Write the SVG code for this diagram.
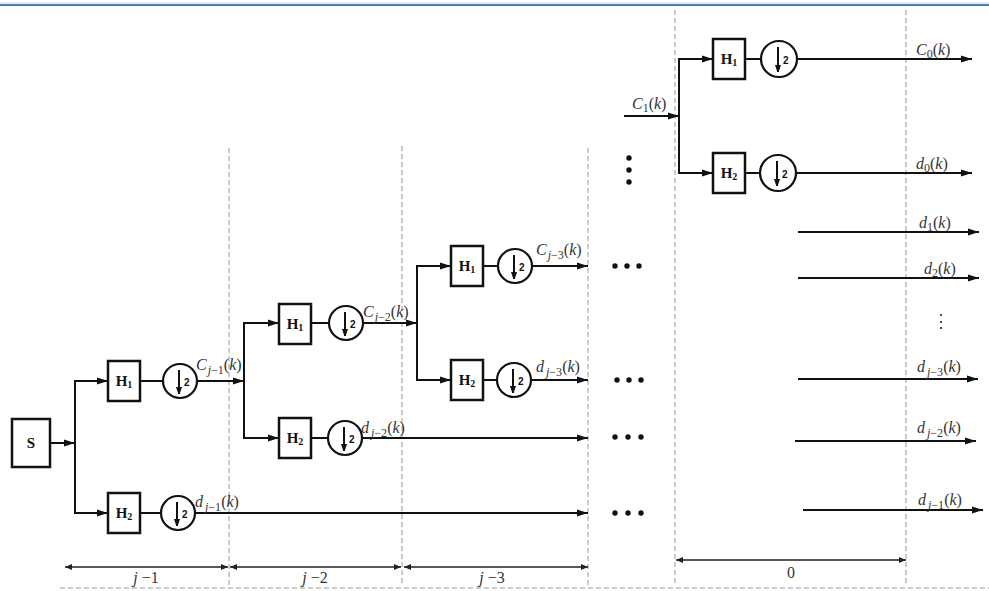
<svg xmlns="http://www.w3.org/2000/svg" width="989" height="591" viewBox="0 0 989 591">
<defs>
<style>
.ln{stroke:#111;stroke-width:2;fill:none}
.bx{stroke:#111;stroke-width:2.5;fill:#fff}
.cr{stroke:#111;stroke-width:2.2;fill:#fff}
.dash{stroke:#999;stroke-width:1;stroke-dasharray:5,3;fill:none}
.dim{stroke:#222;stroke-width:1.3;fill:none}
.lbl{font-family:"Liberation Serif",serif;font-size:16px;fill:#333}
.it{font-style:italic}
.sub{font-size:12px}
.hb{font-family:"Liberation Serif",serif;font-size:15px;font-weight:bold;fill:#111}
.two{font-family:"Liberation Sans",sans-serif;font-size:10px;font-weight:bold;fill:#111}
.dot{fill:#111}
</style>
<marker id="ah" markerUnits="userSpaceOnUse" markerWidth="11" markerHeight="8" refX="11" refY="4" orient="auto"><path d="M0,0.5 L11,4 L0,7.5 z" fill="#111"/></marker>
<marker id="ahs" markerUnits="userSpaceOnUse" markerWidth="7" markerHeight="10" refX="7" refY="3" orient="auto"><path d="M0,0 L9,3 L0,6 z" fill="#111"/></marker>
<marker id="dm" markerUnits="userSpaceOnUse" markerWidth="7" markerHeight="6" refX="7" refY="3" orient="auto-start-reverse"><path d="M0,0 L7,3 L0,6 z" fill="#222"/></marker>
</defs>
<rect width="989" height="591" fill="#fff"/>
<line x1="0" y1="3" x2="989" y2="3" stroke="#c9d8ec" stroke-width="1"/>
<line x1="0" y1="5" x2="989" y2="5" stroke="#4a7ebb" stroke-width="2.2"/>

<g id="grid">
<line class="dash" x1="229" y1="148" x2="229" y2="586"/>
<line class="dash" x1="402" y1="146" x2="402" y2="586"/>
<line class="dash" x1="588" y1="148" x2="588" y2="586"/>
<line class="dash" x1="675" y1="10" x2="675" y2="586"/>
<line class="dash" x1="906" y1="10" x2="906" y2="586"/>
<line class="dash" x1="60" y1="588" x2="989" y2="588"/>
</g>

<g id="connectors">
<line class="ln" x1="50" y1="443" x2="75" y2="443" marker-end="url(#ah)"/>
<line class="ln" x1="75" y1="381" x2="75" y2="513"/>
<line class="ln" x1="74" y1="381" x2="108" y2="381" marker-end="url(#ah)"/>
<line class="ln" x1="74" y1="513" x2="108" y2="513" marker-end="url(#ah)"/>
<line class="ln" x1="140" y1="381" x2="163" y2="381"/>
<line class="ln" x1="140" y1="513" x2="161" y2="513"/>
<line class="ln" x1="197" y1="381" x2="244" y2="381" marker-end="url(#ah)"/>
<line class="ln" x1="195" y1="513" x2="588" y2="513" marker-end="url(#ah)"/>

<line class="ln" x1="244" y1="323" x2="244" y2="438"/>
<line class="ln" x1="243" y1="323" x2="279" y2="323" marker-end="url(#ah)"/>
<line class="ln" x1="243" y1="438" x2="279" y2="438" marker-end="url(#ah)"/>
<line class="ln" x1="311" y1="323" x2="329" y2="323"/>
<line class="ln" x1="311" y1="438" x2="328" y2="438"/>
<line class="ln" x1="363" y1="323" x2="417" y2="323" marker-end="url(#ah)"/>
<line class="ln" x1="362" y1="438" x2="588" y2="438" marker-end="url(#ah)"/>

<line class="ln" x1="417" y1="266" x2="417" y2="380"/>
<line class="ln" x1="416" y1="266" x2="451" y2="266" marker-end="url(#ah)"/>
<line class="ln" x1="416" y1="380" x2="451" y2="380" marker-end="url(#ah)"/>
<line class="ln" x1="483" y1="266" x2="498" y2="266"/>
<line class="ln" x1="483" y1="380" x2="497" y2="380"/>
<line class="ln" x1="532" y1="266" x2="588" y2="266" marker-end="url(#ah)"/>
<line class="ln" x1="531" y1="380" x2="588" y2="380" marker-end="url(#ah)"/>

<line class="ln" x1="624" y1="116" x2="679" y2="116" marker-end="url(#ah)"/>
<line class="ln" x1="679" y1="59" x2="679" y2="173"/>
<line class="ln" x1="678" y1="59" x2="713" y2="59" marker-end="url(#ah)"/>
<line class="ln" x1="678" y1="173" x2="713" y2="173" marker-end="url(#ah)"/>
<line class="ln" x1="745" y1="59" x2="761" y2="59"/>
<line class="ln" x1="745" y1="173" x2="760" y2="173"/>
<line class="ln" x1="797" y1="59" x2="972" y2="59" marker-end="url(#ah)"/>
<line class="ln" x1="796" y1="173" x2="972" y2="173" marker-end="url(#ah)"/>

<line class="ln" x1="798" y1="232" x2="979" y2="232" marker-end="url(#ah)"/>
<line class="ln" x1="798" y1="278" x2="979" y2="278" marker-end="url(#ah)"/>
<line class="ln" x1="798" y1="379" x2="978" y2="379" marker-end="url(#ah)"/>
<line class="ln" x1="795" y1="441" x2="976" y2="441" marker-end="url(#ah)"/>
<line class="ln" x1="803" y1="510" x2="983" y2="510" marker-end="url(#ah)"/>

<line class="dim" x1="65" y1="567" x2="228" y2="567" marker-start="url(#dm)" marker-end="url(#dm)"/>
<line class="dim" x1="230" y1="567" x2="401" y2="567" marker-start="url(#dm)" marker-end="url(#dm)"/>
<line class="dim" x1="404" y1="567" x2="588" y2="567" marker-start="url(#dm)" marker-end="url(#dm)"/>
<line class="dim" x1="676" y1="560" x2="906" y2="560" marker-start="url(#dm)" marker-end="url(#dm)"/>
</g>

<g id="S"><rect class="bx" x="12" y="419" width="38" height="48"/><text class="hb" x="31" y="448" text-anchor="middle" font-size="13">S</text></g>

<g id="s1_H1"><rect class="bx" x="108" y="361" width="32" height="40"/><text class="hb" x="124" y="386" text-anchor="middle">H<tspan font-size="10" dy="2">1</tspan></text></g>
<g id="s1_D1"><circle class="cr" cx="180" cy="381" r="17"/><line class="ln" x1="179" y1="370" x2="179" y2="394" marker-end="url(#ahs)"/><text class="two" x="184" y="386">2</text></g>
<g id="s1_H2"><rect class="bx" x="108" y="493" width="32" height="40"/><text class="hb" x="124" y="518" text-anchor="middle">H<tspan font-size="10" dy="2">2</tspan></text></g>
<g id="s1_D2"><circle class="cr" cx="178" cy="513" r="17"/><line class="ln" x1="177" y1="502" x2="177" y2="526" marker-end="url(#ahs)"/><text class="two" x="182" y="518">2</text></g>

<g id="s2_H1"><rect class="bx" x="279" y="304" width="32" height="40"/><text class="hb" x="295" y="329" text-anchor="middle">H<tspan font-size="10" dy="2">1</tspan></text></g>
<g id="s2_D1"><circle class="cr" cx="346" cy="323" r="17"/><line class="ln" x1="345" y1="312" x2="345" y2="336" marker-end="url(#ahs)"/><text class="two" x="350" y="328">2</text></g>
<g id="s2_H2"><rect class="bx" x="279" y="418" width="32" height="40"/><text class="hb" x="295" y="443" text-anchor="middle">H<tspan font-size="10" dy="2">2</tspan></text></g>
<g id="s2_D2"><circle class="cr" cx="345" cy="438" r="17"/><line class="ln" x1="344" y1="427" x2="344" y2="451" marker-end="url(#ahs)"/><text class="two" x="349" y="443">2</text></g>

<g id="s3_H1"><rect class="bx" x="451" y="246" width="32" height="40"/><text class="hb" x="467" y="271" text-anchor="middle">H<tspan font-size="10" dy="2">1</tspan></text></g>
<g id="s3_D1"><circle class="cr" cx="515" cy="266" r="17"/><line class="ln" x1="514" y1="255" x2="514" y2="279" marker-end="url(#ahs)"/><text class="two" x="519" y="271">2</text></g>
<g id="s3_H2"><rect class="bx" x="451" y="360" width="32" height="40"/><text class="hb" x="467" y="385" text-anchor="middle">H<tspan font-size="10" dy="2">2</tspan></text></g>
<g id="s3_D2"><circle class="cr" cx="514" cy="380" r="17"/><line class="ln" x1="513" y1="369" x2="513" y2="393" marker-end="url(#ahs)"/><text class="two" x="518" y="385">2</text></g>

<g id="s0_H1"><rect class="bx" x="713" y="39" width="32" height="40"/><text class="hb" x="729" y="64" text-anchor="middle">H<tspan font-size="10" dy="2">1</tspan></text></g>
<g id="s0_D1"><circle class="cr" cx="779" cy="59" r="18"/><line class="ln" x1="778" y1="47" x2="778" y2="72" marker-end="url(#ahs)"/><text class="two" x="783" y="64">2</text></g>
<g id="s0_H2"><rect class="bx" x="713" y="153" width="32" height="40"/><text class="hb" x="729" y="178" text-anchor="middle">H<tspan font-size="10" dy="2">2</tspan></text></g>
<g id="s0_D2"><circle class="cr" cx="778" cy="173" r="18"/><line class="ln" x1="777" y1="161" x2="777" y2="186" marker-end="url(#ahs)"/><text class="two" x="782" y="178">2</text></g>

<g id="dots">
<circle class="dot" cx="629" cy="158" r="2.7"/><circle class="dot" cx="629" cy="170" r="2.7"/><circle class="dot" cx="629" cy="182" r="2.7"/>
<circle class="dot" cx="615" cy="266" r="2.7"/><circle class="dot" cx="627" cy="266" r="2.7"/><circle class="dot" cx="639" cy="266" r="2.7"/>
<circle class="dot" cx="617" cy="380" r="2.7"/><circle class="dot" cx="629" cy="380" r="2.7"/><circle class="dot" cx="641" cy="380" r="2.7"/>
<circle class="dot" cx="615" cy="437" r="2.7"/><circle class="dot" cx="628" cy="437" r="2.7"/><circle class="dot" cx="641" cy="437" r="2.7"/>
<circle class="dot" cx="615" cy="513" r="2.7"/><circle class="dot" cx="628" cy="513" r="2.7"/><circle class="dot" cx="641" cy="513" r="2.7"/>
<circle class="dot" cx="941" cy="315" r="1"/><circle class="dot" cx="941" cy="322" r="1"/><circle class="dot" cx="941" cy="328" r="1"/>
</g>

<g id="labels">
<text class="lbl" x="196" y="370"><tspan class="it">C</tspan><tspan class="sub it" dy="4" dx="1">j</tspan><tspan class="sub">−1</tspan><tspan dy="-4">(</tspan><tspan class="it">k</tspan>)</text>
<text class="lbl" x="195" y="507"><tspan class="it">d</tspan><tspan class="sub it" dy="4" dx="2">j</tspan><tspan class="sub">−1</tspan><tspan dy="-4">(</tspan><tspan class="it">k</tspan>)</text>
<text class="lbl" x="363" y="317"><tspan class="it">C</tspan><tspan class="sub it" dy="4" dx="1">j</tspan><tspan class="sub">−2</tspan><tspan dy="-4">(</tspan><tspan class="it">k</tspan>)</text>
<text class="lbl" x="361" y="433"><tspan class="it">d</tspan><tspan class="sub it" dy="4" dx="2">j</tspan><tspan class="sub">−2</tspan><tspan dy="-4">(</tspan><tspan class="it">k</tspan>)</text>
<text class="lbl" x="536" y="255"><tspan class="it">C</tspan><tspan class="sub it" dy="4" dx="1">j</tspan><tspan class="sub">−3</tspan><tspan dy="-4">(</tspan><tspan class="it">k</tspan>)</text>
<text class="lbl" x="536" y="372"><tspan class="it">d</tspan><tspan class="sub it" dy="4" dx="2">j</tspan><tspan class="sub">−3</tspan><tspan dy="-4">(</tspan><tspan class="it">k</tspan>)</text>
<text class="lbl" x="632" y="109"><tspan class="it">C</tspan><tspan class="sub" dy="3">1</tspan><tspan dy="-3">(</tspan><tspan class="it">k</tspan>)</text>
<text class="lbl" x="916" y="55"><tspan class="it">C</tspan><tspan class="sub" dy="3">0</tspan><tspan dy="-3">(</tspan><tspan class="it">k</tspan>)</text>
<text class="lbl" x="916" y="169"><tspan class="it">d</tspan><tspan class="sub" dy="3">0</tspan><tspan dy="-3">(</tspan><tspan class="it">k</tspan>)</text>
<text class="lbl" x="919" y="228"><tspan class="it">d</tspan><tspan class="sub" dy="3">1</tspan><tspan dy="-3">(</tspan><tspan class="it">k</tspan>)</text>
<text class="lbl" x="924" y="274"><tspan class="it">d</tspan><tspan class="sub" dy="3">2</tspan><tspan dy="-3">(</tspan><tspan class="it">k</tspan>)</text>
<text class="lbl" x="917" y="372"><tspan class="it">d</tspan><tspan class="sub it" dy="4" dx="2">j</tspan><tspan class="sub">−3</tspan><tspan dy="-4">(</tspan><tspan class="it">k</tspan>)</text>
<text class="lbl" x="917" y="433"><tspan class="it">d</tspan><tspan class="sub it" dy="4" dx="2">j</tspan><tspan class="sub">−2</tspan><tspan dy="-4">(</tspan><tspan class="it">k</tspan>)</text>
<text class="lbl" x="918" y="505"><tspan class="it">d</tspan><tspan class="sub it" dy="4" dx="2">j</tspan><tspan class="sub">−1</tspan><tspan dy="-4">(</tspan><tspan class="it">k</tspan>)</text>
<text class="lbl" x="146" y="583" text-anchor="middle" font-size="15"><tspan class="it">j</tspan> −1</text>
<text class="lbl" x="315" y="583" text-anchor="middle" font-size="15"><tspan class="it">j</tspan> −2</text>
<text class="lbl" x="492" y="583" text-anchor="middle" font-size="15"><tspan class="it">j</tspan> −3</text>
<text class="lbl" x="791" y="578" text-anchor="middle" font-size="15">0</text>
</g>
</svg>
